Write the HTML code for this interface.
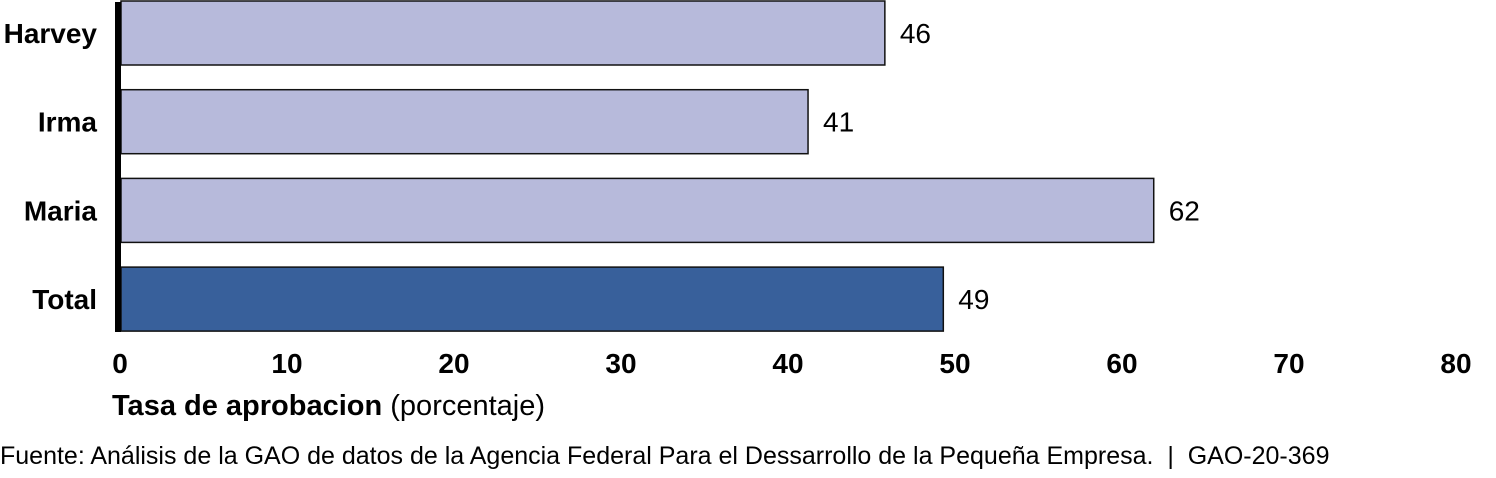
<!DOCTYPE html>
<html><head><meta charset="utf-8"><style>
body{margin:0;background:#fff;width:1496px;height:473px;overflow:hidden}
svg text{font-family:"Liberation Sans",Arial,sans-serif}
</style></head><body>
<svg width="1496" height="473">
<g id="bars"></g>
<g id="xticks"></g>
<line x1="118" y1="2" x2="118" y2="332" stroke="#000" stroke-width="6"/>
<text x="112" y="415" font-size="29"><tspan font-weight="bold">Tasa de aprobacion</tspan> (porcentaje)</text>
<text x="0" y="464" font-size="25" style="white-space:pre">Fuente: Análisis de la GAO de datos de la Agencia Federal Para el Dessarrollo de la Pequeña Empresa.  |  GAO-20-369</text>
</svg>
<script>
const categories=["Harvey","Irma","Maria","Total"];
const values=[45.8,41.2,61.9,49.3];
const labels=["46","41","62","49"];
const ticks=[0,10,20,30,40,50,60,70,80];
const ns="http://www.w3.org/2000/svg";
const x=v=>120+v*16.7;
const yTop=i=>1+i*88.7;
const bh=64;
const gb=document.getElementById('bars'),gt=document.getElementById('xticks');
function mk(t,a){const e=document.createElementNS(ns,t);for(const k in a)e.setAttribute(k,a[k]);return e;}
categories.forEach((c,i)=>{
 const r=mk('rect',{x:121,y:yTop(i),width:x(values[i])-121,height:bh,fill:i===3?'#38609b':'#b7badb',stroke:'#111','stroke-width':1.5});
 
 
 gb.appendChild(r);
 const t=mk('text',{x:x(values[i])+15,y:yTop(i)+bh/2+10,'font-size':28});
 t.textContent=labels[i];
 
 
 gb.appendChild(t);
 const l=mk('text',{x:97,y:yTop(i)+bh/2+10,'font-size':28,'font-weight':'bold','text-anchor':'end'});
 l.textContent=c;
 
 
 gb.appendChild(l);
});
ticks.forEach(v=>{
 const t=mk('text',{x:x(v),y:373,'font-size':28,'font-weight':'bold','text-anchor':'middle'});
 t.textContent=v;
 
 
 gt.appendChild(t);
});
</script>
</body></html>
